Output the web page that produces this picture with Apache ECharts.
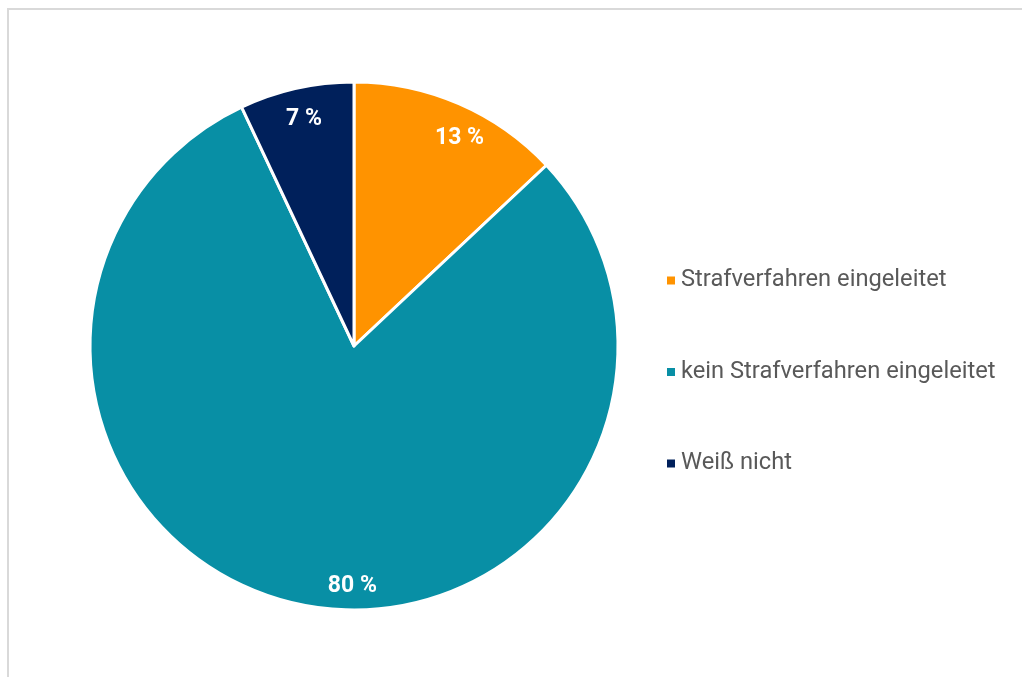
<!DOCTYPE html>
<html lang="de">
<head>
<meta charset="UTF-8">
<title>Strafverfahren</title>
<script src="https://cdn.jsdelivr.net/npm/echarts@6.0.0/dist/echarts.min.js"></script>
<style>
  html, body { margin: 0; padding: 0; background: #fff; overflow: hidden; }
  #frame {
    position: absolute; left: 7px; top: 8px; width: 1100px; height: 800px;
    border-left: 2px solid #d9d9d9; border-top: 2px solid #d9d9d9;
  }
  #main { position: absolute; left: 0; top: 0; width: 1022px; height: 677px; }
</style>
</head>
<body>
<div id="frame"></div>
<div id="main"></div>
<script>
const categories = ['Strafverfahren eingeleitet', 'kein Strafverfahren eingeleitet', 'Weiß nicht']
const values = [13, 80, 7]
const colors = ['#FF9300', '#088FA5', '#00205B']
// small nudges so the labels sit where the original placed them
const labelNudge = [[11, 11], [43, 6], [2, 6]]

const chart = echarts.init(document.getElementById('main'))

const option = {
  animation: false,
  legend: {
    orient: 'vertical',
    left: 660,
    top: 263,
    icon: 'rect',
    itemWidth: 10,
    itemHeight: 10,
    itemGap: 66.5,
    data: categories,
    textStyle: { fontFamily: 'Roboto', fontSize: 23.7, color: '#595959', lineHeight: 25 }
  },
  series: [
    {
      type: 'pie',
      center: [354, 346],
      radius: [0, 264],
      startAngle: 90,
      clockwise: true,
      silent: true,
      itemStyle: { borderColor: '#fff', borderWidth: 3 },
      label: { show: false },
      labelLine: { show: false },
      data: categories.map((name, i) => ({
        name: name,
        value: values[i],
        itemStyle: { color: colors[i] }
      }))
    },
    {
      // transparent ring only used to place the labels near the rim
      type: 'pie',
      center: [354, 346],
      radius: [206, 264],
      startAngle: 90,
      clockwise: true,
      silent: true,
      itemStyle: { color: 'rgba(0,0,0,0)', borderWidth: 0 },
      labelLine: { show: false },
      data: categories.map((name, i) => ({
        name: name,
        value: values[i],
        label: {
          show: true,
          position: 'inside',
          offset: labelNudge[i],
          formatter: p => p.value + ' %',
          color: '#fff',
          fontFamily: 'Roboto',
          fontWeight: 'bold',
          fontSize: 23
        }
      }))
    }
  ]
}

chart.setOption(option)
</script>
</body>
</html>
